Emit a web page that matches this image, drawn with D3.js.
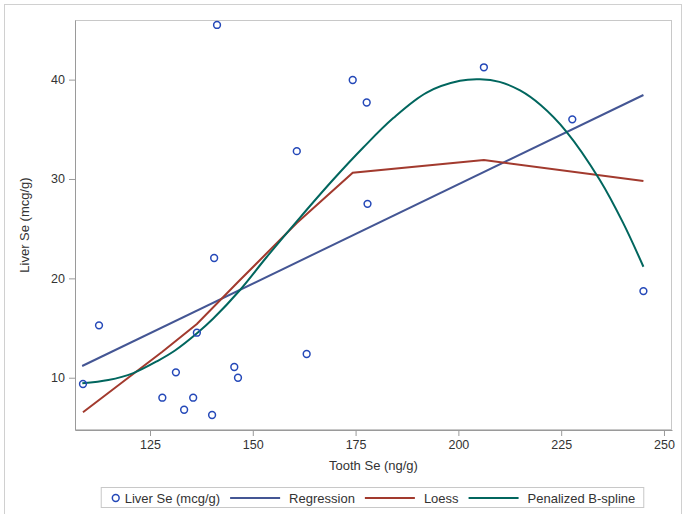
<!DOCTYPE html>
<html>
<head>
<meta charset="utf-8">
<script src="https://cdn.jsdelivr.net/npm/d3@7"></script>
<style>
  body { margin: 0; background: #fff; }
  text { font-family: "Liberation Sans", Arial, sans-serif; fill: #333; }
</style>
</head>
<body>
<div id="chart"></div>
<script>
// Puntos observados (Tooth Se, Liver Se)
const toothSe = [108.7, 112.6, 128.0, 131.3, 133.3, 135.5, 136.4, 140.1, 140.6, 141.3,
                 145.5, 146.4, 160.7, 163.1, 174.3, 177.7, 177.9, 206.2, 227.7, 245.0];
const liverSe = [9.37, 15.27, 7.99, 10.54, 6.78, 7.99, 14.53, 6.25, 22.05, 45.5,
                 11.08, 10.0, 32.8, 12.39, 39.96, 37.7, 27.5, 41.24, 36.0, 18.72];

// Ajustes
const regX = [108.5, 245.0];
const regY = [11.18, 38.45];

const loessX = [108.7, 128.0, 136.4, 146.4, 160.7, 174.3, 206.2, 245.0];
const loessY = [6.52, 12.62, 15.4, 19.63, 25.57, 30.63, 31.91, 29.8];

const splineX = [108.54, 114.86, 120.94, 127.02, 131.08, 136.5, 140.39, 146.89, 153.38, 161.48,
                 169.58, 176.87, 184.17, 192.29, 200.39, 205.25, 210.0, 215.0, 220.0, 226.3,
                 234.4, 240.0, 245.0];
const splineY = [9.44, 9.77, 10.47, 11.73, 12.74, 14.5, 15.96, 18.83, 22.15, 26.12,
                 29.95, 33.17, 36.13, 38.7, 39.88, 40.03, 39.77, 38.91, 37.44, 34.75,
                 29.9, 25.63, 21.17];

const xTicks = [125, 150, 175, 200, 225, 250];
const yTicks = [10, 20, 30, 40];

const W = 684, H = 514;
const plot = { left: 75, top: 20, right: 672, bottom: 430 };

const svg = d3.select("#chart").append("svg")
    .attr("width", W)
    .attr("height", H);

// borde exterior
svg.append("rect")
    .attr("x", 4.5).attr("y", 4.5)
    .attr("width", 677).attr("height", 520)
    .attr("fill", "none")
    .attr("stroke", "#d0d0d0");

const xScale = d3.scaleLinear()
    .domain([106.76, 251.95])
    .range([plot.left, plot.right]);
const yScale = d3.scaleLinear()
    .domain([4.74, 46.0])
    .range([plot.bottom, plot.top]);

// marco del area de grafico
svg.append("rect")
    .attr("x", plot.left + 0.5).attr("y", plot.top + 0.5)
    .attr("width", plot.right - plot.left - 1)
    .attr("height", plot.bottom - plot.top - 1)
    .attr("fill", "none")
    .attr("stroke", "#c8c8c8");

// Ejes
const xAxis = svg.append("g")
    .attr("transform", `translate(0,${plot.bottom})`)
    .call(d3.axisBottom(xScale).tickValues(xTicks).tickSizeInner(6).tickSizeOuter(0).tickPadding(4));
const yAxis = svg.append("g")
    .attr("transform", `translate(${plot.left},0)`)
    .call(d3.axisLeft(yScale).tickValues(yTicks).tickSizeInner(6).tickSizeOuter(0).tickPadding(4));

[xAxis, yAxis].forEach(ax => {
    ax.select(".domain").attr("stroke", "#9a9a9a");
    ax.selectAll(".tick line").attr("stroke", "#9a9a9a");
    ax.selectAll(".tick text")
        .attr("font-size", 12.5)
        .attr("font-family", "'Liberation Sans', Arial, sans-serif")
        .attr("fill", "#333");
});

svg.append("text")
    .attr("x", (plot.left + plot.right) / 2)
    .attr("y", 470)
    .attr("text-anchor", "middle")
    .attr("font-size", 13)
    .text("Tooth Se (ng/g)");

svg.append("text")
    .attr("transform", `translate(29,${(plot.top + plot.bottom) / 2}) rotate(-90)`)
    .attr("text-anchor", "middle")
    .attr("font-size", 13)
    .text("Liver Se (mcg/g)");

const plotArea = svg.append("g");

const line = d3.line()
    .x(d => xScale(d[0]))
    .y(d => yScale(d[1]));

plotArea.append("path")
    .datum(d3.zip(regX, regY))
    .attr("d", line)
    .attr("fill", "none")
    .attr("stroke", "#445694")
    .attr("stroke-width", 2);

plotArea.append("path")
    .datum(d3.zip(loessX, loessY))
    .attr("d", line)
    .attr("fill", "none")
    .attr("stroke", "#a23a2e")
    .attr("stroke-width", 2);

plotArea.append("path")
    .datum(d3.zip(splineX, splineY))
    .attr("d", line.curve(d3.curveCatmullRom.alpha(0.5)))
    .attr("fill", "none")
    .attr("stroke", "#01665e")
    .attr("stroke-width", 2);

plotArea.selectAll("circle.pt")
    .data(d3.zip(toothSe, liverSe))
    .enter()
    .append("circle")
      .attr("class", "pt")
      .attr("cx", d => xScale(d[0]))
      .attr("cy", d => yScale(d[1]))
      .attr("r", 3.4)
      .attr("fill", "none")
      .attr("stroke", "#2448b8")
      .attr("stroke-width", 1.5);

// Leyenda
const legendItems = [
    { label: "Liver Se (mcg/g)", type: "marker", color: "#2448b8" },
    { label: "Regression", type: "line", color: "#445694" },
    { label: "Loess", type: "line", color: "#a23a2e" },
    { label: "Penalized B-spline", type: "line", color: "#01665e" }
];

const legend = svg.append("g");
const legendBox = legend.append("rect")
    .attr("fill", "none")
    .attr("stroke", "#c8c8c8");
const ly = 498;
let cx = 0;
legendItems.forEach(item => {
    const g = legend.append("g");
    if (item.type === "marker") {
        g.append("circle")
            .attr("cx", cx + 4).attr("cy", ly)
            .attr("r", 3.4)
            .attr("fill", "none")
            .attr("stroke", item.color)
            .attr("stroke-width", 1.5);
        cx += 13;
    } else {
        g.append("line")
            .attr("x1", cx).attr("x2", cx + 50)
            .attr("y1", ly).attr("y2", ly)
            .attr("stroke", item.color)
            .attr("stroke-width", 2);
        cx += 59;
    }
    const t = g.append("text")
        .attr("x", cx).attr("y", ly + 4.5)
        .attr("font-size", 13)
        .text(item.label);
    cx += t.node().getComputedTextLength() + 10;
});
const legendW = cx - 10;
const lx0 = (plot.left + plot.right) / 2 - legendW / 2;
legend.selectAll("g").attr("transform", `translate(${lx0},0)`);
legendBox
    .attr("x", lx0 - 10.5).attr("y", 487.5)
    .attr("width", legendW + 19).attr("height", 20);
</script>
</body>
</html>
